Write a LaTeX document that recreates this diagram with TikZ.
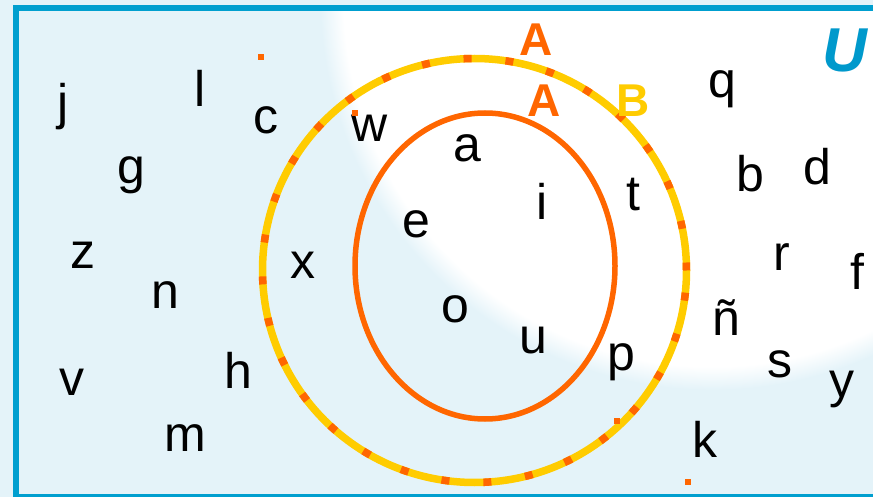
\documentclass[tikz,border=0pt]{standalone}
\usepackage{fontspec}
\setmainfont{Liberation Sans}
\definecolor{bgblue}{HTML}{E4F3F9}
\definecolor{frameblue}{HTML}{009FCF}
\definecolor{ublue}{HTML}{0099CC}
\definecolor{setorange}{HTML}{FF6600}
\definecolor{setyellow}{HTML}{FFCC00}
\pgfdeclareradialshading{glow}{\pgfpoint{0bp}{0bp}}{color(0bp)=(white); color(23.5bp)=(white); color(25bp)=(bgblue); color(50bp)=(bgblue)}
\tikzset{
  elem/.style={anchor=base, inner sep=0pt, font=\fontsize{50}{60}\selectfont, text=black},
  setlabel/.style={anchor=base, inner sep=0pt, font=\fontsize{46}{55}\selectfont\bfseries},
  dotmark/.style={fill=setorange, minimum size=6pt, inner sep=0pt, draw=none},
}
\begin{document}
\begin{tikzpicture}[x=1pt,y=-1pt]
\useasboundingbox (0,0) rectangle (873,497);
\fill[bgblue] (0,0) rectangle (873,497);
\begin{scope}
  \clip (16,8.5) rectangle (880,497);
  \shade[shading=glow] (712,-2) circle (392pt);
\end{scope}
\draw[frameblue, line width=6pt] (16,8.5) rectangle (890,497);

% sets
\draw[setyellow, line width=7.5pt] (474.5,270.5) circle (212pt);
\draw[setorange, line width=7.5pt, dash pattern=on 8pt off 34pt] (474.5,270.5) circle (212pt);
\draw[setorange, line width=5.5pt] (485,266) ellipse [x radius=130pt, y radius=153pt];

% set labels
\node[setlabel, text=setorange] (labA1) at (536,56) {A};
\node[setlabel, text=setorange] (labA2) at (544,117) {A};
\node[setlabel, text=setyellow] (labB) at (633,117) {B};
\node[anchor=base, inner sep=0pt, font=\fontsize{62}{70}\selectfont\bfseries\itshape, text=ublue] (labU) at (845,72) {U};

% elements
\node[elem] (ej) at (63,120) {j};
\node[elem] (el) at (200,107) {l};
\node[elem] (ec) at (266,134) {c};
\node[elem] (eg) at (131,184) {g};
\node[elem] (ez) at (83,269) {z};
\node[elem] (en) at (165,308) {n};
\node[elem] (ev) at (72,395) {v};
\node[elem] (eh) at (238,388) {h};
\node[elem] (em) at (185,451) {m};
\node[elem] (ex) at (303,278) {x};
\node[elem] (ew) at (370,142) {w};
\node[elem] (ea) at (467,162) {a};
\node[elem] (ee) at (416,238) {e};
\node[elem] (eo) at (455,322) {o};
\node[elem] (ei) at (542,220) {i};
\node[elem] (eu) at (533,353) {u};
\node[elem] (et) at (633,211) {t};
\node[elem] (ep) at (621,370) {p};
\node[elem] (eq) at (722,98) {q};
\node[elem] (eb) at (750,192) {b};
\node[elem] (ed) at (817,185) {d};
\node[elem] (er) at (782,270) {r};
\node[elem] (ef) at (857,289) {f};
\node[elem] (enn) at (726,335) {ñ};
\node[elem] (es) at (780,377) {s};
\node[elem] (ey) at (842,397) {y};
\node[elem] (ek) at (705,457) {k};

% small orange marks
\node[dotmark] (d1) at (260.5,57.5) {};
\node[dotmark] (d2) at (355,113.5) {};
\node[dotmark] (d3) at (617,421) {};
\node[dotmark] (d4) at (688,482) {};
\end{tikzpicture}
\end{document}
